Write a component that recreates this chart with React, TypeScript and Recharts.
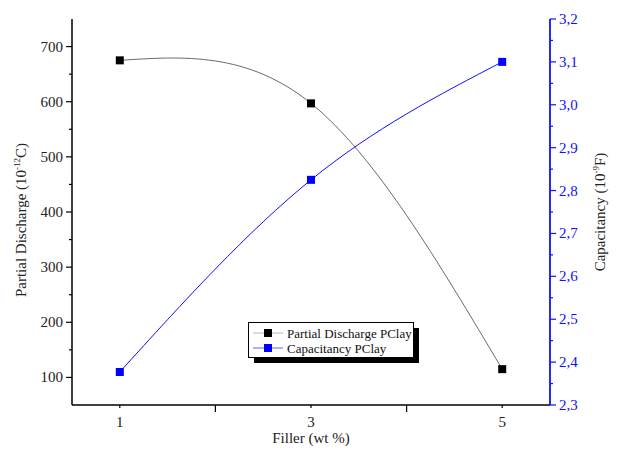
import { LineChart, Line, XAxis, YAxis } from "recharts";

const fillers = [1, 3, 5];
const partialDischarge = [675, 597, 115];
const capacitancy = [2.377, 2.825, 3.1];

const xTicks = [1, 2, 3, 4, 5];
const xLabels = [1, 3, 5];
const leftTicks = [100, 150, 200, 250, 300, 350, 400, 450, 500, 550, 600, 650, 700, 750];
const rightTicks = [2.3, 2.35, 2.4, 2.45, 2.5, 2.55, 2.6, 2.65, 2.7, 2.75, 2.8, 2.85, 2.9, 2.95, 3.0, 3.05, 3.1, 3.15, 3.2];
const seriesNames = ["Partial Discharge PClay", "Capacitancy PClay"];

const data = fillers.map((x, i) => ({ x, pd: partialDischarge[i], cap: capacitancy[i] }));

const FONT = "'Liberation Serif', 'Times New Roman', serif";
const BLUE = "#1010ff";

const isMajor = (v: number, step: number) => Math.abs(v / step - Math.round(v / step)) < 1e-6;

function LeftTick(props: any) {
  const { x, y, payload } = props;
  const major = isMajor(payload.value, 100);
  if (payload.value > 700) return null;
  return (
    <g>
      <line x1={x} x2={x - (major ? 6 : 3)} y1={y} y2={y} stroke="#000" strokeWidth={1.2} />
      {major && (
        <text x={x - 9} y={y + 5} textAnchor="end" fontSize={15} fontFamily={FONT} fill="#222">
          {payload.value}
        </text>
      )}
    </g>
  );
}

function RightTick(props: any) {
  const { x, y, payload } = props;
  const major = isMajor(payload.value, 0.1);
  return (
    <g>
      <line x1={x} x2={x + (major ? 6 : 3)} y1={y} y2={y} stroke={BLUE} strokeWidth={1.2} />
      {major && (
        <text x={x + 9} y={y + 5} textAnchor="start" fontSize={15} fontFamily={FONT} fill={BLUE}>
          {payload.value.toFixed(1).replace(".", ",")}
        </text>
      )}
    </g>
  );
}

function BottomTick(props: any) {
  const { x, y, payload } = props;
  const labeled = xLabels.includes(payload.value);
  return (
    <g>
      <line x1={x} x2={x} y1={y} y2={y + (labeled ? 3 : 7)} stroke="#000" strokeWidth={1.2} />
      {labeled && (
        <text x={x} y={y + 22} textAnchor="middle" fontSize={15} fontFamily={FONT} fill="#222">
          {payload.value}
        </text>
      )}
    </g>
  );
}

function TopTick(props: any) {
  const { x, y, payload } = props;
  const labeled = xLabels.includes(payload.value);
  return <line x1={x} x2={x} y1={y} y2={y + (labeled ? 3 : 6)} stroke="#000" strokeWidth={1.2} />;
}

function SquareDot(color: string) {
  return (props: any) => {
    const { cx, cy, index } = props;
    return <rect key={index} x={cx - 4} y={cy - 4} width={8} height={8} fill={color} />;
  };
}

function LegendBox() {
  const rows = [
    { name: seriesNames[0], line: "#b8b0c8", fill: "#000" },
    { name: seriesNames[1], line: "#6060ff", fill: "#0000ff" },
  ];
  return (
    <svg width={175} height={44} style={{ position: "absolute", left: 248, top: 322 }}>
      <rect x={6} y={6} width={165} height={35} fill="#000" />
      <rect x={0.5} y={0.5} width={165} height={35} fill="#fff" stroke="#000" strokeWidth={1} />
      {rows.map((r, i) => (
        <g key={r.name}>
          <line x1={5} x2={35} y1={11 + i * 15} y2={11 + i * 15} stroke={r.line} strokeWidth={1} />
          <rect x={16} y={7 + i * 15} width={8} height={8} fill={r.fill} />
          <text x={39} y={16 + i * 15} fontSize={13} fontFamily={FONT} fill="#111">
            {r.name}
          </text>
        </g>
      ))}
    </svg>
  );
}

export default function App() {
  return (
    <div style={{ position: "absolute", left: 0, top: 0, width: 618, height: 450, background: "#fff" }}>
      <LineChart width={618} height={450} data={data} margin={{ top: 19, right: 0, bottom: 0, left: 0 }}>
        <XAxis
          xAxisId="top"
          orientation="top"
          type="number"
          dataKey="x"
          domain={[0.5, 5.5]}
          ticks={xTicks}
          interval={0}
          height={0}
          tickSize={0}
          tickMargin={0}
          tick={<TopTick />}
          tickLine={false}
          axisLine={{ stroke: "#555", strokeWidth: 1.2 }}
        />
        <XAxis
          type="number"
          dataKey="x"
          domain={[0.5, 5.5]}
          ticks={xTicks}
          interval={0}
          height={45}
          tickSize={0}
          tickMargin={0}
          tick={<BottomTick />}
          tickLine={false}
          axisLine={{ stroke: "#000", strokeWidth: 1.5 }}
          label={{ value: "Filler (wt %)", position: "insideBottom", offset: 7, fontSize: 15, fontFamily: FONT, fill: "#222" }}
        />
        <YAxis
          yAxisId="left"
          orientation="left"
          domain={[50, 750]}
          ticks={leftTicks}
          interval={0}
          width={72}
          tickSize={0}
          tickMargin={0}
          tick={<LeftTick />}
          tickLine={false}
          axisLine={{ stroke: "#000", strokeWidth: 1.5 }}
          allowDataOverflow
        />
        <YAxis
          yAxisId="right"
          orientation="right"
          domain={[2.3, 3.2]}
          ticks={rightTicks}
          interval={0}
          width={68}
          tickSize={0}
          tickMargin={0}
          tick={<RightTick />}
          tickLine={false}
          axisLine={{ stroke: BLUE, strokeWidth: 1.8 }}
          allowDataOverflow
        />
        <Line
          yAxisId="left"
          dataKey="pd"
          name={seriesNames[0]}
          type="natural"
          stroke="#444"
          strokeWidth={0.8}
          dot={SquareDot("#000")}
          isAnimationActive={false}
        />
        <Line
          yAxisId="right"
          dataKey="cap"
          name={seriesNames[1]}
          type="natural"
          stroke={BLUE}
          strokeWidth={1}
          dot={SquareDot("#0000ff")}
          isAnimationActive={false}
        />
      </LineChart>
      <LegendBox />
      <div
        style={{
          position: "absolute",
          left: 21,
          top: 220,
          transform: "translate(-50%, -50%) rotate(-90deg)",
          whiteSpace: "nowrap",
          fontFamily: FONT,
          fontSize: 15,
          color: "#222",
        }}
      >
        Partial Discharge (10<sup style={{ fontSize: 9 }}>-12</sup>C)
      </div>
      <div
        style={{
          position: "absolute",
          left: 600,
          top: 212,
          transform: "translate(-50%, -50%) rotate(-90deg)",
          whiteSpace: "nowrap",
          fontFamily: FONT,
          fontSize: 15,
          color: "#222",
        }}
      >
        Capacitancy (10<sup style={{ fontSize: 9 }}>-9</sup>F)
      </div>
    </div>
  );
}
